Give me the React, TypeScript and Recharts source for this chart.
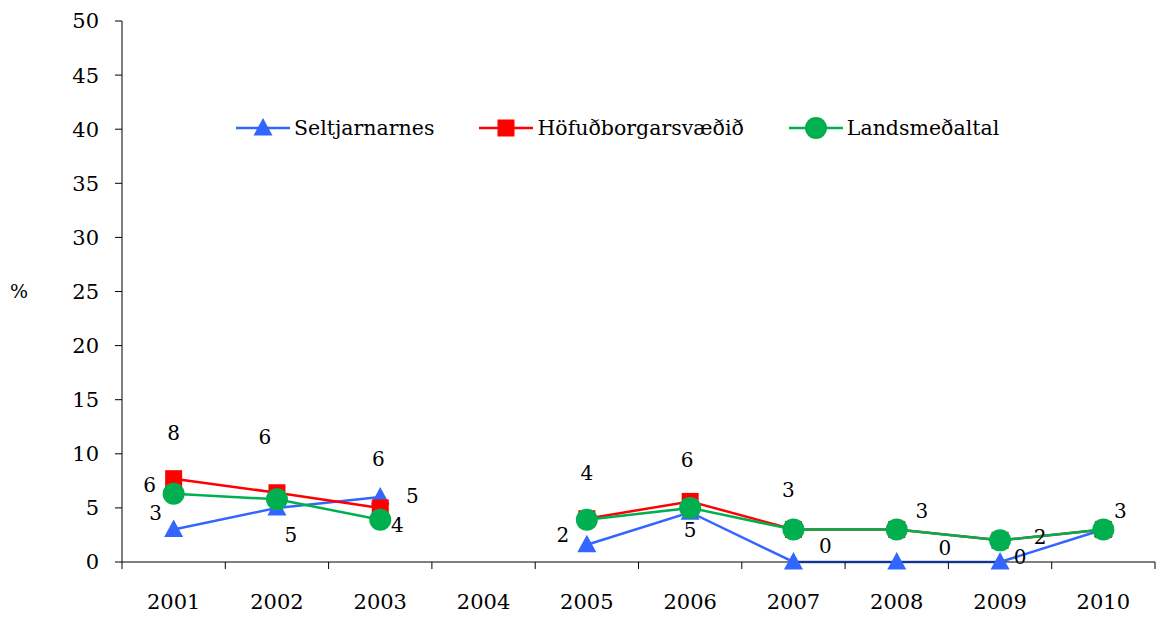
import { LineChart, Line, XAxis, YAxis, Legend, LabelList } from 'recharts'

const FONT = "'DejaVu Serif'"

const YEARS = ['2001', '2002', '2003', '2004', '2005', '2006', '2007', '2008', '2009', '2010']
const SELTJARNARNES = [3, 5, 6, null, 1.6, 4.6, 0, 0, 0, 3]
const HOFUDBORGARSVAEDID = [7.7, 6.4, 5, null, 4, 5.6, 3, 3, 2, 3]
const LANDSMEDALTAL = [6.3, 5.8, 3.9, null, 3.9, 5, 3, 3, 2, 3]
const Y_TICKS = [0, 5, 10, 15, 20, 25, 30, 35, 40, 45, 50]

// where each value label sits relative to its point (null = no label shown)
type Offset = [number, number] | null
const SEL_LABEL_POS: Offset[] = [[-18, -17], [14, 27], [-2, -38], null, [-24, -10], [0, 18], [32, -16], [48, -14], [20, -5], null]
const HOF_LABEL_POS: Offset[] = [[0, -46], [-12, -56], [32, -12], null, [0, -46], [-3, -41], [-5, -40], null, null, null]
const LAND_LABEL_POS: Offset[] = [[-24, -9], null, [17, 5], null, null, null, null, [25, -19], [40, -3], [17, -19]]

type Shape = 'triangle' | 'square' | 'circle'

const SERIES = [
  { key: 'sel', name: 'Seltjarnarnes', color: '#3366FF', shape: 'triangle' as Shape, labels: SEL_LABEL_POS },
  { key: 'hof', name: 'Höfuðborgarsvæðið', color: '#FF0000', shape: 'square' as Shape, labels: HOF_LABEL_POS },
  { key: 'land', name: 'Landsmeðaltal', color: '#00B050', shape: 'circle' as Shape, labels: LAND_LABEL_POS },
]

const data = YEARS.map((year, i) => ({
  year,
  sel: SELTJARNARNES[i],
  hof: HOFUDBORGARSVAEDID[i],
  land: LANDSMEDALTAL[i],
}))

function Marker({ shape, cx, cy, color }: { shape: Shape; cx: number; cy: number; color: string }) {
  if (shape === 'triangle')
    return <polygon points={`${cx},${cy - 10} ${cx - 9.5},${cy + 7.5} ${cx + 9.5},${cy + 7.5}`} fill={color} />
  if (shape === 'square') return <rect x={cx - 8.5} y={cy - 8.5} width={17} height={17} fill={color} />
  return <circle cx={cx} cy={cy} r={11} fill={color} />
}

const makeDot = (shape: Shape, color: string) => (props: any) => {
  const { cx, cy, index, value } = props
  if (cy == null || value == null || (Array.isArray(value) && value[1] == null)) return <g key={index} />
  return <Marker key={index} shape={shape} cx={cx} cy={cy} color={color} />
}

const makeLabel = (pos: Offset[]) => (props: any) => {
  const { value, index } = props
  const x = props.x ?? props.viewBox?.x
  const y = props.y ?? props.viewBox?.y
  const p = pos[index]
  if (value == null || !p || x == null || y == null) return null
  return (
    <text x={x + p[0]} y={y + p[1]} textAnchor="middle" dominantBaseline="central" style={{ fontFamily: FONT, fontSize: 20 }} fill="#000">
      {Math.round(Number(value))}
    </text>
  )
}

function YearTick(props: any) {
  const { x, y, payload, index, width, visibleTicksCount } = props
  const half = width / visibleTicksCount / 2
  return (
    <g>
      <line x1={x - half} x2={x - half} y1={y} y2={y + 7} stroke="#000" />
      {index === visibleTicksCount - 1 && <line x1={x + half} x2={x + half} y1={y} y2={y + 7} stroke="#000" />}
      <text x={x} y={y + 40} textAnchor="middle" dominantBaseline="central" style={{ fontFamily: FONT, fontSize: 21 }} fill="#000">
        {payload.value}
      </text>
    </g>
  )
}

function LegendContent() {
  return (
    <div style={{ display: 'flex', alignItems: 'center', gap: 45, paddingLeft: 236, height: 30, fontFamily: FONT, fontSize: 20.5, color: '#000' }}>
      {SERIES.map((s) => (
        <div key={s.key} style={{ display: 'flex', alignItems: 'center', gap: 4 }}>
          <svg width={54} height={30}>
            <line x1={0} x2={54} y1={15} y2={15} stroke={s.color} strokeWidth={2.5} />
            <Marker shape={s.shape} cx={27} cy={15} color={s.color} />
          </svg>
          <span style={{ lineHeight: '30px', whiteSpace: 'nowrap' }}>{s.name}</span>
        </div>
      ))}
    </div>
  )
}

export default function App() {
  return (
    <div style={{ position: 'absolute', left: 0, top: 0, width: 1156, height: 617, background: '#fff' }}>
      <LineChart width={1156} height={617} data={data} margin={{ top: 21, right: 1, bottom: 5, left: 42 }}>
        <XAxis
          dataKey="year"
          scale="band"
          interval={0}
          height={50}
          tickSize={0}
          tickMargin={0}
          tickLine={false}
          axisLine={{ stroke: '#000' }}
          tick={<YearTick />}
        />
        <YAxis
          width={80}
          domain={[0, 50]}
          ticks={Y_TICKS}
          interval={0}
          tickSize={7}
          tickMargin={16}
          axisLine={{ stroke: '#000' }}
          tickLine={{ stroke: '#000' }}
          tick={{ fontSize: 21, fontFamily: FONT, fill: '#000' }}
          label={{ value: '%', position: 'left', offset: 14, fontSize: 19, fontFamily: FONT, fill: '#000' }}
        />
        <Legend
          verticalAlign="middle"
          align="center"
          content={<LegendContent />}
          wrapperStyle={{ position: 'absolute', top: 113, left: 0, width: 1156, height: 30 }}
        />
        {SERIES.map((s) => (
          <Line
            key={s.key}
            dataKey={s.key}
            name={s.name}
            type="linear"
            stroke={s.color}
            strokeWidth={2.5}
            dot={makeDot(s.shape, s.color)}
            activeDot={false}
            connectNulls={false}
            isAnimationActive={false}
          >
            <LabelList dataKey={s.key} content={makeLabel(s.labels)} />
          </Line>
        ))}
      </LineChart>
    </div>
  )
}
